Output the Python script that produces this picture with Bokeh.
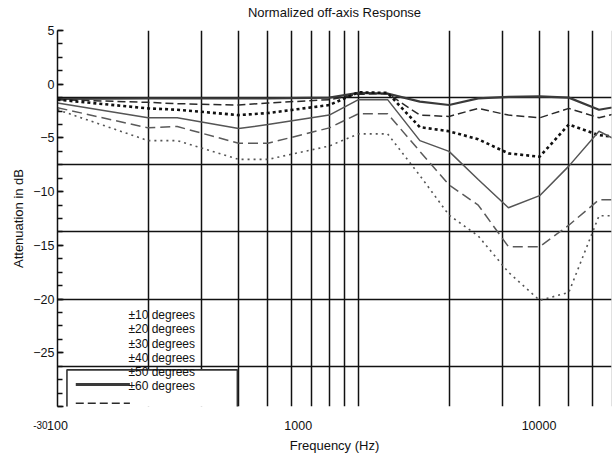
import numpy as np
from bokeh.plotting import figure
from bokeh.models import (Range1d, LogScale, LinearAxis, FixedTicker,
                          SingleIntervalTicker, Grid, Label)
from bokeh.core.properties import value
from bokeh.embed import file_html
from bokeh.resources import INLINE

# ---------------- data ----------------
freq = [100, 200, 250, 400, 500, 800, 1000, 1250, 1600, 2000, 2500, 3150, 4000, 5000, 6300, 8000]
deg10 = [-0.1, -0.05, -0.05, -0.05, -0.05, 0.0, 0.35, 0.3, -0.3, -0.55, -0.05, 0.05, 0.1, 0.0, -0.9, -0.5]
deg20 = [-0.15, -0.35, -0.45, -0.55, -0.4, -0.15, 0.25, 0.3, -1.3, -1.4, -0.8, -1.3, -1.5, -0.8, -1.5, -0.9]
deg30 = [-0.15, -0.8, -0.9, -1.3, -1.15, -0.55, 0.4, 0.35, -2.2, -2.5, -3.1, -4.15, -4.4, -2.0, -2.8, -3.0]
deg40 = [-0.4, -1.5, -1.5, -2.3, -2.0, -1.3, -0.15, -0.15, -3.2, -4.0, -6.1, -8.2, -7.3, -5.1, -2.5, -3.7]
deg50 = [-0.75, -2.25, -2.15, -3.4, -3.4, -2.25, -1.2, -1.2, -4.0, -6.5, -8.0, -11.1, -11.1, -9.5, -7.6, -7.6]
deg60 = [-0.9, -3.2, -3.2, -4.6, -4.6, -3.6, -2.7, -2.7, -5.8, -8.75, -10.3, -13.0, -15.1, -14.5, -8.8, -8.8]
series = [deg10, deg20, deg30, deg40, deg50, deg60]
series_labels = ["±10 degrees", "±20 degrees", "±30 degrees",
                 "±40 degrees", "±50 degrees", "±60 degrees"]

title_text = "Normalized off-axis Response"
x_tick_values = [100, 1000, 10000]
x_tick_labels = ["100", "1000", "10000"]
x_grid_values = [200, 300, 400, 500, 600, 700, 800, 900, 1000,
                 2000, 3000, 4000, 5000, 6000, 7000]
y_grid_values = [5, 0, -5, -10, -15, -20]

# ---------------- styles ----------------
FONT = "Liberation Sans"
styles = [
    dict(line_color="#3a3a3a", line_width=2.2, line_dash="solid"),
    dict(line_color="#2a2a2a", line_width=1.5, line_dash="8 4"),
    dict(line_color="#111111", line_width=2.6, line_dash="3 3"),
    dict(line_color="#555555", line_width=1.5, line_dash="solid"),
    dict(line_color="#5a5a5a", line_width=1.5, line_dash="10 5"),
    dict(line_color="#555555", line_width=1.6, line_dash="2 4"),
]

# printed axis scale vs. the (1.25x enlarged) drawing layer
LAB_X = (100, 20000)
LAB_Y = (-30, 5)
ZOOM = 1.25
data_x_end = 10 ** (2 + np.log10(LAB_X[1] / LAB_X[0]) / ZOOM)
data_y_start = LAB_Y[1] - (LAB_Y[1] - LAB_Y[0]) / ZOOM

p = figure(width=612, height=455, x_axis_type="log",
           x_range=Range1d(100, data_x_end), y_range=Range1d(data_y_start, 5),
           x_axis_location=None, y_axis_location=None,
           output_backend="svg", toolbar_location=None,
           min_border_left=57, min_border_right=1, min_border_top=30, min_border_bottom=45)
p.outline_line_color = None
for g in list(p.grid):
    g.visible = False

p.extra_x_ranges = {"lab": Range1d(*LAB_X)}
p.extra_x_scales = {"lab": LogScale()}
p.extra_y_ranges = {"lab": Range1d(*LAB_Y)}

# axes on the printed scale
xaxis = LinearAxis(x_range_name="lab", ticker=FixedTicker(ticks=x_tick_values),
                   axis_label="Frequency (Hz)")
xaxis.major_label_overrides = {v: t for v, t in zip(x_tick_values, x_tick_labels)}
xaxis.axis_line_color = None
xaxis.major_tick_line_color = None
xaxis.minor_tick_line_color = None
xaxis.major_label_standoff = 8
xaxis.axis_label_standoff = 5
p.add_layout(xaxis, "below")

yaxis = LinearAxis(y_range_name="lab", ticker=SingleIntervalTicker(interval=5, num_minor_ticks=4),
                   axis_label="Attenuation in dB")
yaxis.major_label_overrides = {-30: ""}
yaxis.axis_line_color = "#111111"
yaxis.axis_line_width = 1.5
yaxis.major_tick_in = 6
yaxis.major_tick_out = 0
yaxis.minor_tick_in = 5
yaxis.minor_tick_out = 0
yaxis.major_tick_line_width = 1.5
yaxis.minor_tick_line_width = 1.5
yaxis.major_tick_line_color = "#111111"
yaxis.minor_tick_line_color = "#111111"
yaxis.major_label_standoff = 3
yaxis.axis_label_standoff = 4
p.add_layout(yaxis, "left")

for ax in (xaxis, yaxis):
    ax.major_label_text_font = FONT
    ax.major_label_text_font_size = "12.5px"
    ax.major_label_text_color = "#111111"
    ax.axis_label_text_font = FONT
    ax.axis_label_text_font_size = "13px"
    ax.axis_label_text_font_style = "normal"
    ax.axis_label_text_color = "#111111"

# grid drawn on the enlarged layer
p.add_layout(Grid(dimension=0, ticker=FixedTicker(ticks=x_grid_values),
                  grid_line_color="#111111", grid_line_width=1.5))
p.add_layout(Grid(dimension=1, ticker=FixedTicker(ticks=y_grid_values),
                  grid_line_color="#111111", grid_line_width=1.5))

# enlarged legend frame (white box hides the grid behind it)
p.quad(left=[107.5], right=[396], top=[-20.27], bottom=[-24.5],
       fill_color="white", line_color="#333333", line_width=1.6)

# the curves
for vals, st in zip(series, styles):
    p.line(freq, vals, **st)

# enlarged legend samples (only the first two fall inside the frame)
sample_x = [115, 174]
for i, sy in enumerate([-21.37, -22.76]):
    st = dict(styles[i])
    if i == 0:
        st["line_width"] = 3
    p.line(sample_x, [sy, sy], **st)

# legend texts on the printed scale
row_top, row_step = -21.5, -1.32
p.text(x=[197] * len(series_labels),
       y=[row_top + i * row_step for i in range(len(series_labels))],
       text=series_labels, x_range_name="lab", y_range_name="lab",
       text_font=value(FONT), text_font_size="12px", text_color="#111111",
       text_align="left", text_baseline="middle")

# title and the displaced "-30" tick label: side-panel labels (not clipped to the frame)
x_mid = 10 ** (np.log10(LAB_X[0] * LAB_X[1]) / 2)
p.add_layout(Label(x=x_mid, y=6.66, x_range_name="lab", y_range_name="lab",
                   text=title_text, text_font=FONT, text_font_size="13px",
                   text_color="#111111", text_align="center", text_baseline="middle"), "above")
p.add_layout(Label(x=91, y=-31.7, x_range_name="lab", y_range_name="lab",
                   text="-30", text_font=FONT, text_font_size="10px",
                   text_color="#111111", text_align="right", text_baseline="middle"), "above")

open("out.html", "w").write(file_html(p, INLINE))
